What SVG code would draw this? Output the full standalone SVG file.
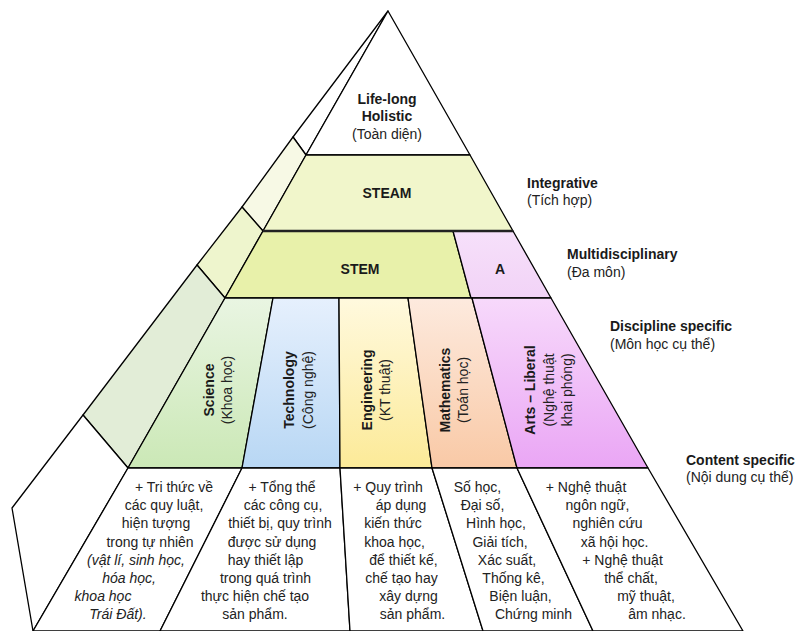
<svg xmlns="http://www.w3.org/2000/svg" width="795" height="631" viewBox="0 0 795 631">
<style>
.ln{stroke:#000;stroke-width:1.3;stroke-linejoin:round}
.b{font-family:"Liberation Sans",Arial,sans-serif;font-weight:bold;font-size:14px;fill:#1a1a1a}
.r{font-family:"Liberation Sans",Arial,sans-serif;font-size:14px;fill:#222}
.it{font-style:italic}
.c{text-anchor:middle}
</style>
<defs>
<linearGradient id="gSci" x1="0" y1="0" x2="0" y2="1"><stop offset="0" stop-color="#e9f5e2"/><stop offset="1" stop-color="#cbe8b6"/></linearGradient>
<linearGradient id="gTec" x1="0" y1="0" x2="0" y2="1"><stop offset="0" stop-color="#e6f0fd"/><stop offset="1" stop-color="#b8d7f4"/></linearGradient>
<linearGradient id="gEng" x1="0" y1="0" x2="0" y2="1"><stop offset="0" stop-color="#fff9de"/><stop offset="1" stop-color="#fcea98"/></linearGradient>
<linearGradient id="gMat" x1="0" y1="0" x2="0" y2="1"><stop offset="0" stop-color="#fdeade"/><stop offset="1" stop-color="#f9c9a6"/></linearGradient>
<linearGradient id="gArt" x1="0" y1="0" x2="0" y2="1"><stop offset="0" stop-color="#f7d9fb"/><stop offset="1" stop-color="#eaa6f5"/></linearGradient>
<linearGradient id="gA" x1="0" y1="0" x2="0" y2="1"><stop offset="0" stop-color="#f6e0fa"/><stop offset="1" stop-color="#f2d3f7"/></linearGradient>
</defs>
<rect width="795" height="631" fill="#fff"/>

<g id="left-face">
<polygon points="388,11 293,137 306,155" fill="#fff" class="ln"/>
<polygon points="293,137 306,155 263,231 242,207" fill="#f7f9e5" class="ln"/>
<polygon points="242,207 263,231 225,298 197,265" fill="#eef5cd" class="ln"/>
<polygon points="197,265 225,298 128,468 83,415" fill="#e2edd7" class="ln"/>
<polygon points="83,415 128,468 33,631 12,508" fill="#fff" class="ln"/>
</g>

<g id="lifelong">
<polygon points="388,11 470,155 306,155" fill="#fff" class="ln"/>
<text class="b c" x="387" y="104">Life-long</text>
<text class="b c" x="387" y="121">Holistic</text>
<text class="r c" x="387" y="139">(Toàn diện)</text>
</g>

<g id="steam">
<polygon points="306,155 470,155 513,231 263,231" fill="#f1f6cb" class="ln"/>
<text class="b c" x="387" y="198">STEAM</text>
</g>

<g id="stem">
<polygon points="263,231 453,231 471,298 225,298" fill="#e8f1aa" class="ln"/>
<text class="b c" x="360" y="274">STEM</text>
</g>

<g id="a">
<polygon points="453,231 513,231 551,298 471,298" fill="url(#gA)" class="ln"/>
<text class="b c" x="500" y="274">A</text>
</g>

<g id="science">
<polygon points="225,298 273,298 242,468 128,468" fill="url(#gSci)" class="ln"/>
<g transform="translate(214,390) rotate(-90)">
<text class="b c" x="0" y="0">Science</text>
<text class="r c" x="0" y="18">(Khoa học)</text>
</g>
</g>

<g id="technology">
<polygon points="273,298 339,298 340,468 242,468" fill="url(#gTec)" class="ln"/>
<g transform="translate(294,390) rotate(-90)">
<text class="b c" x="0" y="0">Technology</text>
<text class="r c" x="0" y="19">(Công nghệ)</text>
</g>
</g>

<g id="engineering">
<polygon points="339,298 408,298 432,468 340,468" fill="url(#gEng)" class="ln"/>
<g transform="translate(372,390) rotate(-90)">
<text class="b c" x="0" y="0">Engineering</text>
<text class="r c" x="0" y="18">(KT thuật)</text>
</g>
</g>

<g id="mathematics">
<polygon points="408,298 472,298 517,468 432,468" fill="url(#gMat)" class="ln"/>
<g transform="translate(450,390) rotate(-90)">
<text class="b c" x="0" y="0">Mathematics</text>
<text class="r c" x="0" y="18">(Toán học)</text>
</g>
</g>

<g id="arts">
<polygon points="472,298 551,298 648,468 517,468" fill="url(#gArt)" class="ln"/>
<g transform="translate(535,390) rotate(-90)">
<text class="b c" x="0" y="0">Arts – Liberal</text>
<text class="r c" x="0" y="19">(Nghệ thuật</text>
<text class="r c" x="0" y="37">khai phóng)</text>
</g>
</g>

<g id="content-science">
<polygon points="128,468 242,468 160,631 33,631" fill="#fff" class="ln"/>
<text class="r c" x="174" y="492">+ Tri thức về</text>
<text class="r c" x="164" y="510.2">các quy luật,</text>
<text class="r c" x="156" y="528.4">hiện tượng</text>
<text class="r c" x="150" y="546.6">trong tự nhiên</text>
<text class="r c it" x="136" y="564.8">(vật lí, sinh học,</text>
<text class="r c it" x="129" y="583">hóa học,</text>
<text class="r c it" x="103" y="601.2">khoa học</text>
<text class="r c it" x="118" y="619.4">Trái Đất).</text>
</g>

<g id="content-technology">
<polygon points="242,468 340,468 350,631 160,631" fill="#fff" class="ln"/>
<text class="r c" x="282" y="492">+ Tổng thể</text>
<text class="r c" x="283" y="510.2">các công cụ,</text>
<text class="r c" x="280" y="528.4">thiết bị, quy trình</text>
<text class="r c" x="272" y="546.6">được sử dụng</text>
<text class="r c" x="265.5" y="564.8">hay thiết lập</text>
<text class="r c" x="265.5" y="583">trong quá trình</text>
<text class="r c" x="255" y="601.2">thực hiện chế tạo</text>
<text class="r c" x="255" y="619.4">sản phẩm.</text>
</g>

<g id="content-engineering">
<polygon points="340,468 432,468 483,631 350,631" fill="#fff" class="ln"/>
<text class="r c" x="388" y="492">+ Quy trình</text>
<text class="r c" x="401" y="510.2">áp dụng</text>
<text class="r c" x="393" y="528.4">kiến thức</text>
<text class="r c" x="394.5" y="546.6">khoa học,</text>
<text class="r c" x="403.5" y="564.8">để thiết kế,</text>
<text class="r c" x="401.5" y="583">chế tạo hay</text>
<text class="r c" x="408.5" y="601.2">xây dựng</text>
<text class="r c" x="412.5" y="619.4">sản phẩm.</text>
</g>

<g id="content-mathematics">
<polygon points="432,468 517,468 593,631 483,631" fill="#fff" class="ln"/>
<text class="r c" x="477.5" y="492">Số học,</text>
<text class="r c" x="482.5" y="510.2">Đại số,</text>
<text class="r c" x="496" y="528.4">Hình học,</text>
<text class="r c" x="500" y="546.6">Giải tích,</text>
<text class="r c" x="507" y="564.8">Xác suất,</text>
<text class="r c" x="513.5" y="583">Thống kê,</text>
<text class="r c" x="520.5" y="601.2">Biện luận,</text>
<text class="r c" x="533.5" y="619.4">Chứng minh</text>
</g>

<g id="content-arts">
<polygon points="517,468 648,468 743,631 593,631" fill="#fff" class="ln"/>
<text class="r c" x="586" y="492">+ Nghệ thuật</text>
<text class="r c" x="597.5" y="510.2">ngôn ngữ,</text>
<text class="r c" x="607.5" y="528.4">nghiên cứu</text>
<text class="r c" x="614.5" y="546.6">xã hội học.</text>
<text class="r c" x="622.5" y="564.8">+ Nghệ thuật</text>
<text class="r c" x="631" y="583">thể chất,</text>
<text class="r c" x="646" y="601.2">mỹ thuật,</text>
<text class="r c" x="657" y="619.4">âm nhạc.</text>
</g>

<g id="connectors">
<line x1="263" y1="231" x2="513" y2="231" stroke="#222" stroke-width="2.4"/>
</g>

<g id="level-labels">
<text class="b" x="527" y="188">Integrative</text>
<text class="r" x="527" y="205">(Tích hợp)</text>
<text class="b" x="567" y="259">Multidisciplinary</text>
<text class="r" x="567" y="277">(Đa môn)</text>
<text class="b" x="610" y="331">Discipline specific</text>
<text class="r" x="610" y="349">(Môn học cụ thể)</text>
<text class="b" x="686" y="465">Content specific</text>
<text class="r" x="686" y="482">(Nội dung cụ thể)</text>
</g>
</svg>
